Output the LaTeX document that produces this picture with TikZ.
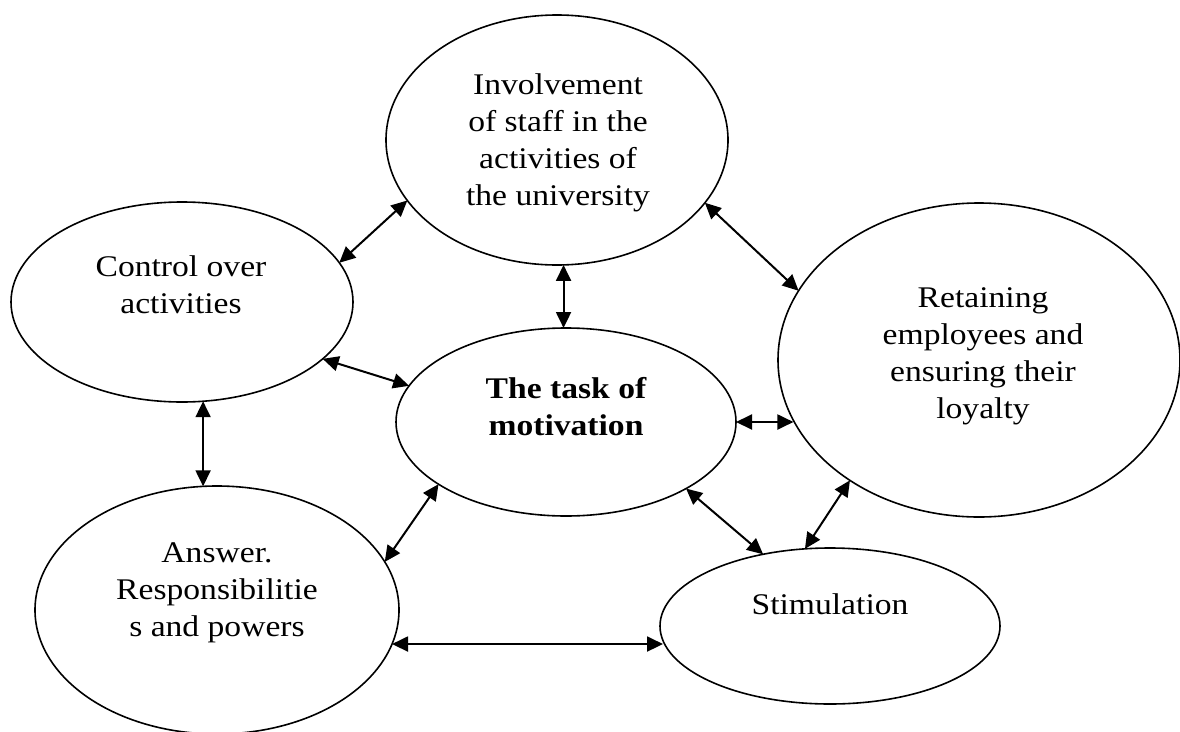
\documentclass[tikz,border=0pt]{standalone}
\usepackage{fontspec}
\setmainfont{Liberation Serif}[FakeStretch=1.12]
\usetikzlibrary{shapes.geometric,arrows.meta}
\tikzset{
  oval/.style={draw, ellipse, line width=1.6pt, inner sep=0pt, outer sep=0pt},
  lbl/.style={align=center, font=\fontsize{30}{37}\selectfont, inner sep=0pt},
  link/.style={line width=2pt, {Triangle[length=16pt,width=15pt]}-{Triangle[length=16pt,width=15pt]}}
}
\begin{document}
\begin{tikzpicture}[x=1pt,y=-1pt]
\useasboundingbox (0,0) rectangle (1180,731);
\clip (0,0) rectangle (1180,731);
% ellipses
\node[oval, minimum width=342pt, minimum height=250pt] (inv) at (557,140) {};
\node[oval, minimum width=342pt, minimum height=200pt] (ctl) at (182,302) {};
\node[oval, minimum width=340pt, minimum height=188pt] (task) at (566,422) {};
\node[oval, minimum width=402pt, minimum height=314pt] (ret) at (979,360) {};
\node[oval, minimum width=364pt, minimum height=248pt] (ans) at (217,610) {};
\node[oval, minimum width=340pt, minimum height=156pt] (stim) at (830,626) {};
% texts
\node[lbl] (invt) at (558,143) {Involvement\\of staff in the\\activities of\\the university};
\node[lbl] (ctlt) at (181,285) {Control over\\activities};
\node[lbl, font=\fontsize{30}{37}\selectfont\bfseries] (taskt) at (566,407) {The task of\\motivation};
\node[lbl] (rett) at (983,356) {Retaining\\employees and\\ensuring their\\loyalty};
\node[lbl] (anst) at (217,593) {Answer.\\Responsibilitie\\s and powers};
\node[lbl] (stimt) at (830,604) {Stimulation};
% connectors
\draw[link] (ctl.14) -- (inv.202.75);
\draw[link] (inv.337.25) -- (ret.159.8);
\draw[link] (inv.273.5) -- (inv.273.5 |- task.north);
\draw[link] (ctl.338.1) -- (task.167.6);
\draw[link] (ctl.282.1) -- (ctl.282.1 |- ans.96.4);
\draw[link] (task.east) -- (task.east -| ret.198.5);
\draw[link] (ans.16.8) -- (task.206.05);
\draw[link] (task.331.6) -- (stim.133.5);
\draw[link] (stim.108.2) -- (ret.223.5);
\draw[link] (ans.349.8) -- (ans.349.8 -| stim.185.4);
\end{tikzpicture}
\end{document}
